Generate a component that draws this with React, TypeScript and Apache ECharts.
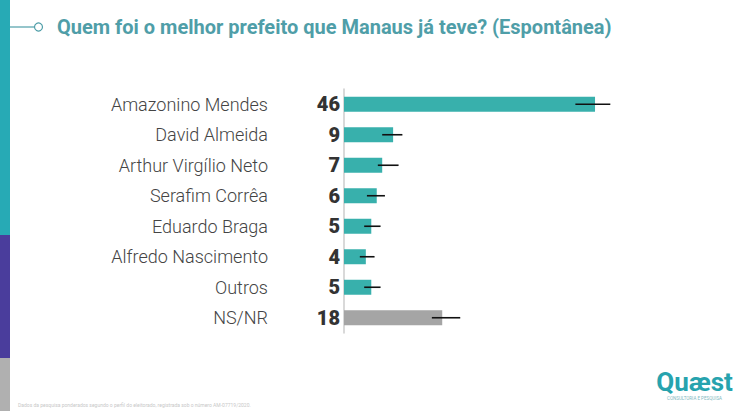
import React, { useEffect, useRef } from "react";
import * as echarts from "echarts";

const categories = [
  "Amazonino Mendes",
  "David Almeida",
  "Arthur Virgílio Neto",
  "Serafim Corrêa",
  "Eduardo Braga",
  "Alfredo Nascimento",
  "Outros",
  "NS/NR",
];
const values = [46, 9, 7, 6, 5, 4, 5, 18];
const errLow = [42.4, 7.0, 6.2, 4.2, 3.7, 2.9, 3.7, 16.1];
const errHigh = [48.8, 10.7, 10.0, 7.5, 6.7, 5.6, 6.7, 21.3];
const title = "Quem foi o melhor prefeito que Manaus já teve? (Espontânea)";
const footnote =
  "Dados da pesquisa ponderados segundo o perfil do eleitorado, registrada sob o número AM-07719/2020.";

const TEAL = "#38b0ac";
const GRAY = "#a5a5a5";

export default function App() {
  const ref = useRef<HTMLDivElement>(null);
  useEffect(() => {
    if (!ref.current) return;
    const chart = echarts.init(ref.current, null, { renderer: "svg" });
    const n = categories.length;
    chart.setOption({
      animation: false,
      backgroundColor: "#ffffff",
      textStyle: { fontFamily: "Roboto" },
      grid: { left: 344, top: 89, height: 244, right: 21 },
      xAxis: { type: "value", min: 0, max: 70, show: false },
      yAxis: [
        {
          type: "category",
          inverse: true,
          data: categories,
          axisLine: { show: true, lineStyle: { color: "#cccccc", width: 1.5 } },
          axisTick: { show: false },
          axisLabel: {
            margin: 4,
            formatter: (_v: string, i: number) => String(values[i]),
            color: "#333333",
            fontSize: 20,
            fontWeight: 900,
            fontFamily: "Roboto",
          },
        },
        {
          type: "category",
          inverse: true,
          position: "left",
          data: categories,
          axisLine: { show: false },
          axisTick: { show: false },
          axisLabel: {
            margin: 76,
            color: "#444444",
            fontSize: 18,
            fontWeight: 300,
            fontFamily: "Roboto",
          },
        },
      ],
      series: [
        {
          type: "bar",
          yAxisIndex: 0,
          barWidth: 15,
          z: 2,
          data: values.map((v, i) => ({
            value: v,
            itemStyle: { color: i === n - 1 ? GRAY : TEAL },
          })),
        },
        {
          type: "custom",
          yAxisIndex: 0,
          z: 5,
          data: categories.map((_c, i) => [errLow[i], errHigh[i], i]),
          renderItem: (_params: any, api: any) => {
            const lo = api.coord([api.value(0), api.value(2)]);
            const hi = api.coord([api.value(1), api.value(2)]);
            return {
              type: "line",
              z2: 10,
              shape: { x1: lo[0], y1: lo[1], x2: hi[0], y2: hi[1] },
              style: { stroke: "#111111", lineWidth: 1.6 },
            };
          },
        },
      ],
      graphic: [
        { type: "rect", shape: { x: 0, y: 0, width: 10, height: 235 }, style: { fill: "#27aab5" } },
        { type: "rect", shape: { x: 0, y: 235, width: 10, height: 123 }, style: { fill: "#4a3d9c" } },
        { type: "rect", shape: { x: 0, y: 358, width: 10, height: 53 }, style: { fill: "#b0b0b0" } },
        {
          type: "line",
          shape: { x1: 10, y1: 27, x2: 34, y2: 27 },
          style: { stroke: "#4f9ea8", lineWidth: 1.2 },
        },
        {
          type: "circle",
          shape: { cx: 38.5, cy: 27, r: 4 },
          style: { fill: "#ffffff", stroke: "#4f9ea8", lineWidth: 1.2 },
        },
        {
          type: "text",
          x: 57,
          y: 27,
          style: {
            text: title,
            fill: "#4f9ea8",
            font: "bold 20px Roboto",
            textVerticalAlign: "middle",
          },
        },
        {
          type: "text",
          x: 18,
          y: 405,
          style: {
            text: footnote,
            fill: "#c8c8c8",
            font: "5px Roboto",
            textVerticalAlign: "middle",
          },
        },
        {
          type: "text",
          x: 694.5,
          y: 382,
          style: {
            text: "Quæst",
            fill: "#27a3ae",
            font: "bold 26px Roboto",
            textAlign: "center",
            textVerticalAlign: "middle",
          },
        },
        {
          type: "text",
          x: 694.5,
          y: 398,
          style: {
            text: "CONSULTORIA E PESQUISA",
            fill: "#7fb9c0",
            font: "4.5px Roboto",
            textAlign: "center",
            textVerticalAlign: "middle",
          },
        },
      ],
    });
    return () => chart.dispose();
  }, []);
  return (
    <div
      ref={ref}
      style={{ position: "absolute", left: 0, top: 0, width: 747, height: 411 }}
    />
  );
}
